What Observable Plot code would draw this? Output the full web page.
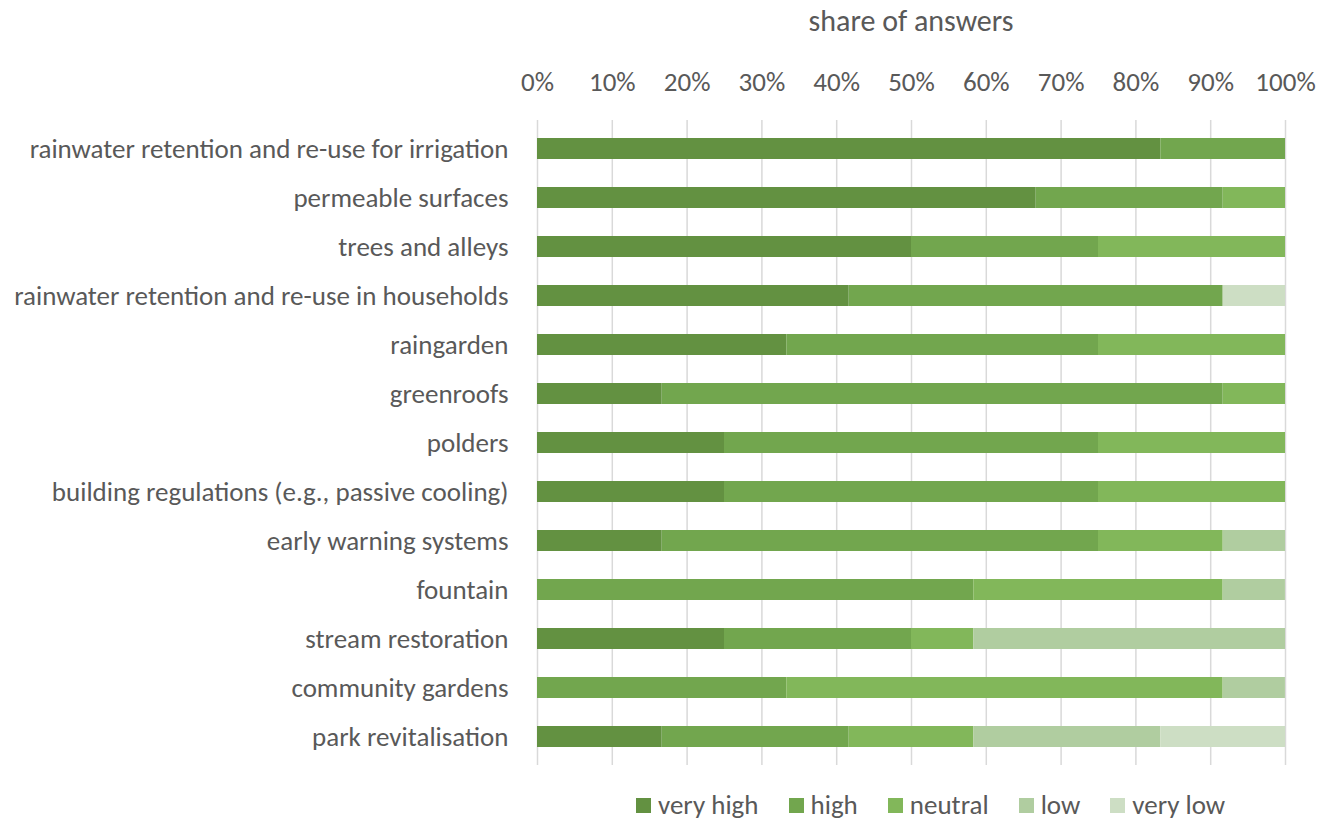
<!DOCTYPE html>
<html>
<head>
<meta charset="utf-8">
<script src="https://cdn.jsdelivr.net/npm/d3@7"></script>
<script src="https://cdn.jsdelivr.net/npm/@observablehq/plot@0.6"></script>
<style>
  body { margin: 0; background: #fff; font-family: Carlito, Calibri, "Open Sans", sans-serif; color: #595959; }
  #title { position: relative; height: 45px; }
  #title span { position: absolute; left: 911px; top: 3px; transform: translateX(-50%); font-size: 30px; line-height: 36px; white-space: nowrap; }
  #legend { display: flex; gap: 30px; position: absolute; top: 789px; left: 636px; font-size: 27px; line-height: 32px; align-items: center; }
  #legend .item { display: flex; align-items: center; gap: 7px; }
  #legend .sw { width: 15px; height: 15px; display: inline-block; }
</style>
</head>
<body>
<div id="title"><span>share of answers</span></div>
<div id="chart"></div>
<div id="legend"></div>
<script>
const categories = [
  "rainwater retention and re-use for irrigation",
  "permeable surfaces",
  "trees and alleys",
  "rainwater retention and re-use in households",
  "raingarden",
  "greenroofs",
  "polders",
  "building regulations (e.g., passive cooling)",
  "early warning systems",
  "fountain",
  "stream restoration",
  "community gardens",
  "park revitalisation"
];
const levels = ["very high", "high", "neutral", "low", "very low"];
const colors = ["#639141", "#72a64e", "#82b75a", "#b0cda0", "#cddec4"];
// shares in percent (12 respondents -> multiples of 8.33%)
const veryHigh = [83.33, 66.67, 50, 41.67, 33.33, 16.67, 25, 25, 16.67, 0, 25, 0, 16.67];
const high     = [16.67, 25, 25, 50, 41.67, 75, 50, 50, 58.33, 58.33, 25, 33.33, 25];
const neutral  = [0, 8.33, 25, 0, 25, 8.33, 25, 25, 16.67, 33.33, 8.33, 58.33, 16.67];
const low      = [0, 0, 0, 0, 0, 0, 0, 0, 8.33, 8.33, 41.67, 8.33, 25];
const veryLow  = [0, 0, 0, 8.33, 0, 0, 0, 0, 0, 0, 0, 0, 16.67];
const xTicks = [0, 10, 20, 30, 40, 50, 60, 70, 80, 90, 100];

const series = [veryHigh, high, neutral, low, veryLow];
const data = [];
categories.forEach((c, i) => {
  levels.forEach((l, j) => {
    data.push({category: c, level: l, value: series[j][i]});
  });
});

const font = 'Carlito, Calibri, "Open Sans", sans-serif';
const chart = Plot.plot({
  width: 1333,
  height: 725,
  marginLeft: 537,
  marginRight: 48,
  marginTop: 75,
  marginBottom: 5,
  style: {fontFamily: font, fontSize: "27px", color: "#595959", background: "#fff"},
  x: {domain: [0, 100]},
  y: {domain: categories, paddingInner: 0.58, paddingOuter: 0.29},
  color: {domain: levels, range: colors},
  marks: [
    Plot.gridX(xTicks, {stroke: "#d9d9d9", strokeOpacity: 1, strokeWidth: 1.5}),
    Plot.axisX({anchor: "top", ticks: xTicks, tickFormat: d => d + "%", tickSize: 0, tickPadding: 30, label: null, fill: "#595959"}),
    Plot.axisY({tickSize: 0, tickPadding: 29, label: null, fill: "#595959"}),
    Plot.barX(data, Plot.stackX({x: "value", y: "category", fill: "level", order: levels}))
  ]
});
document.getElementById("chart").appendChild(chart);

const legend = document.getElementById("legend");
levels.forEach((l, j) => {
  const item = document.createElement("div");
  item.className = "item";
  item.innerHTML = `<span class="sw" style="background:${colors[j]}"></span><span>${l}</span>`;
  legend.appendChild(item);
});
</script>
</body>
</html>
